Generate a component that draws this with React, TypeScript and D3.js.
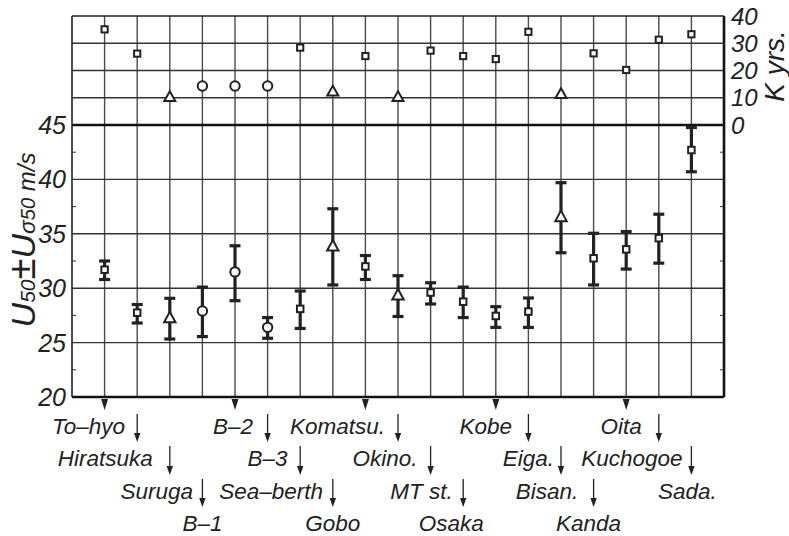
import React from "react";
import * as d3 from "d3";

// stations, left to right
const stations = [
  "To–hyo", "Hiratsuka", "Suruga", "B–1", "B–2", "B–3", "Sea–berth", "Gobo",
  "Komatsu.", "Okino.", "MT st.", "Osaka", "Kobe", "Eiga.", "Bisan.", "Kanda",
  "Oita", "Kuchogoe", "Sada.",
];
// marker kind: s = square, t = triangle, c = circle
const markers = ["s", "s", "t", "c", "c", "c", "s", "t", "s", "t", "s", "s", "s", "s", "t", "s", "s", "s", "s"];
// record length (K yrs.)
const kyrs = [35.1, 26.2, 10.4, 14.3, 14.3, 14.3, 28.4, 12.4, 25.3, 10.4, 27.3, 25.3, 24.2, 34.2, 11.5, 26.3, 20.2, 31.3, 33.3];
// U50 and its +/- sigma bounds (m/s)
const u50 = [31.7, 27.75, 27.3, 27.9, 31.5, 26.4, 28.1, 33.9, 32.0, 29.4, 29.6, 28.76, 27.45, 27.85, 36.6, 32.75, 33.57, 34.6, 42.7];
const uHigh = [32.5, 28.5, 29.07, 30.1, 33.9, 27.3, 29.74, 37.3, 33.0, 31.15, 30.5, 30.1, 28.3, 29.1, 39.7, 35.05, 35.2, 36.8, 44.77];
const uLow = [30.8, 26.8, 25.33, 25.55, 28.85, 25.4, 26.3, 30.3, 30.8, 27.4, 28.55, 27.3, 26.4, 26.4, 33.26, 30.3, 31.76, 32.3, 40.7];

const uTicks = [20, 25, 30, 35, 40, 45];
const uMinor = [22.5, 27.5, 32.5, 37.5, 42.5];
const kTicks = [0, 10, 20, 30, 40];

// label shift from station (px) so the staggered names don't collide
const labelDx = [-16, -32, -13, 0, -2, 0, -29, 0, -28, -13, -9, -12, -10, 0, -14, -5, -5, -27, -4];

const W = 789;
const H = 536;
const FONT = "'Liberation Sans', Arial, sans-serif";

const x = d3.scaleLinear().domain([0, 20]).range([72, 724]);
const yU = d3.scaleLinear().domain([20, 45]).range([397, 125]);
const yK = d3.scaleLinear().domain([0, 40]).range([125, 16]);

const rowBase = [434, 466, 499, 531];

function Marker({ kind, cx, cy, big }: { kind: string; cx: number; cy: number; big: boolean }) {
  const sw = 2;
  if (kind === "s") {
    const s = big ? 6.5 : 6.2;
    return <rect x={cx - s / 2} y={cy - s / 2} width={s} height={s} fill="#fff" stroke="#222" strokeWidth={sw} />;
  }
  if (kind === "c") {
    return <circle cx={cx} cy={cy} r={4.7} fill="#fff" stroke="#222" strokeWidth={sw} />;
  }
  const hw = big ? 5.7 : 5.5;
  const h = big ? 9.5 : 8.8;
  const sym = d3.line()([
    [cx, cy - h / 2 - 1],
    [cx + hw, cy + h / 2],
    [cx - hw, cy + h / 2],
  ]) + "Z";
  return <path d={sym} fill="#fff" stroke="#222" strokeWidth={sw} strokeLinejoin="miter" />;
}

export default function App() {
  const grid = "#4a4a4a";
  const idx = d3.range(stations.length);

  return (
    <svg width={W} height={H} style={{ position: "absolute", left: 0, top: 0, background: "#fff" }} fontFamily={FONT}>
      {/* vertical grid at every station */}
      {idx.map((i) => (
        <line key={"v" + i} x1={x(i + 1)} x2={x(i + 1)} y1={yK(40)} y2={yU(20)} stroke={grid} strokeWidth={1.4} />
      ))}
      {/* horizontal grid, lower panel */}
      {uTicks.filter((t) => t > 20 && t < 45).map((t) => (
        <line key={"hu" + t} x1={x(0)} x2={x(20)} y1={yU(t)} y2={yU(t)} stroke="#333" strokeWidth={1.4} />
      ))}
      {/* horizontal grid, upper panel */}
      {kTicks.filter((t) => t > 0 && t < 40).map((t) => (
        <line key={"hk" + t} x1={x(0)} x2={x(20)} y1={yK(t)} y2={yK(t)} stroke="#333" strokeWidth={1.4} />
      ))}
      {/* minor ticks */}
      {uMinor.map((t) => (
        <g key={"m" + t}>
          <line x1={x(0)} x2={x(0) + 4} y1={yU(t)} y2={yU(t)} stroke="#333" strokeWidth={1} />
          <line x1={x(20) - 4} x2={x(20)} y1={yU(t)} y2={yU(t)} stroke="#333" strokeWidth={1} />
        </g>
      ))}
      {/* frame */}
      <line x1={x(0)} x2={x(20)} y1={yK(40)} y2={yK(40)} stroke="#222" strokeWidth={1.6} />
      <line x1={x(0)} x2={x(20)} y1={yU(45)} y2={yU(45)} stroke="#111" strokeWidth={2.6} />
      <line x1={x(0)} x2={x(20)} y1={yU(20)} y2={yU(20)} stroke="#111" strokeWidth={2.6} />
      <line x1={x(0)} x2={x(0)} y1={yK(40)} y2={yU(20)} stroke="#222" strokeWidth={1.6} />
      <line x1={x(20)} x2={x(20)} y1={yK(40)} y2={yU(20)} stroke="#111" strokeWidth={2.6} />

      {/* left tick labels */}
      {uTicks.map((t) => (
        <text key={"lt" + t} x={66} y={yU(t)} dy="0.36em" textAnchor="end" fontSize={25} fontStyle="italic" fill="#222">
          {t}
        </text>
      ))}
      {/* right tick labels */}
      {kTicks.map((t) => (
        <text key={"rt" + t} x={731} y={yK(t)} dy="0.36em" textAnchor="start" fontSize={24} fontStyle="italic" fill="#222">
          {t}
        </text>
      ))}

      {/* axis titles */}
      <text transform="translate(35,240) rotate(-90)" textAnchor="middle" fontStyle="italic" fill="#222">
        <tspan fontSize={34}>U</tspan>
        <tspan fontSize={21}>50</tspan>
        <tspan fontSize={38} fontStyle="normal">±</tspan>
        <tspan fontSize={34}>U</tspan>
        <tspan fontSize={23}>σ</tspan>
        <tspan fontSize={20}>50</tspan>
        <tspan fontSize={24}>{"  m/s"}</tspan>
      </text>
      <text transform="translate(784,66) rotate(-90)" textAnchor="middle" fontSize={28} fontStyle="italic" fill="#222">
        K yrs.
      </text>

      {/* error bars */}
      {idx.map((i) => {
        const cx = x(i + 1);
        return (
          <g key={"e" + i} stroke="#222" strokeWidth={3.2}>
            <line x1={cx} x2={cx} y1={yU(uHigh[i])} y2={yU(uLow[i])} />
            <line x1={cx - 5.5} x2={cx + 5.5} y1={yU(uHigh[i])} y2={yU(uHigh[i])} />
            <line x1={cx - 5.5} x2={cx + 5.5} y1={yU(uLow[i])} y2={yU(uLow[i])} />
          </g>
        );
      })}
      {/* markers */}
      {idx.map((i) => (
        <g key={"mk" + i}>
          <Marker kind={markers[i]} cx={x(i + 1)} cy={yU(u50[i])} big={true} />
          <Marker kind={markers[i]} cx={x(i + 1)} cy={yK(kyrs[i])} big={false} />
        </g>
      ))}

      {/* station names with staggered arrows */}
      {idx.map((i) => {
        const r = i % 4;
        const cx = x(i + 1);
        const base = rowBase[r];
        let arrow;
        if (r === 0) {
          arrow = <path d={d3.line()([[cx - 3.5, yU(20) + 2], [cx + 3.5, yU(20) + 2], [cx, yU(20) + 13]]) + "Z"} fill="#222" />;
        } else {
          const top = rowBase[r - 1] - 20;
          const bot = base - 24;
          arrow = (
            <g>
              <line x1={cx} x2={cx} y1={top} y2={bot - 7} stroke="#222" strokeWidth={1.3} />
              <path d={d3.line()([[cx - 3.2, bot - 9], [cx + 3.2, bot - 9], [cx, bot]]) + "Z"} fill="#222" />
            </g>
          );
        }
        return (
          <g key={"lab" + i}>
            {arrow}
            <text x={cx + labelDx[i]} y={base} textAnchor="middle" fontSize={22.5} fontStyle="italic" fill="#222">
              {stations[i]}
            </text>
          </g>
        );
      })}
    </svg>
  );
}
